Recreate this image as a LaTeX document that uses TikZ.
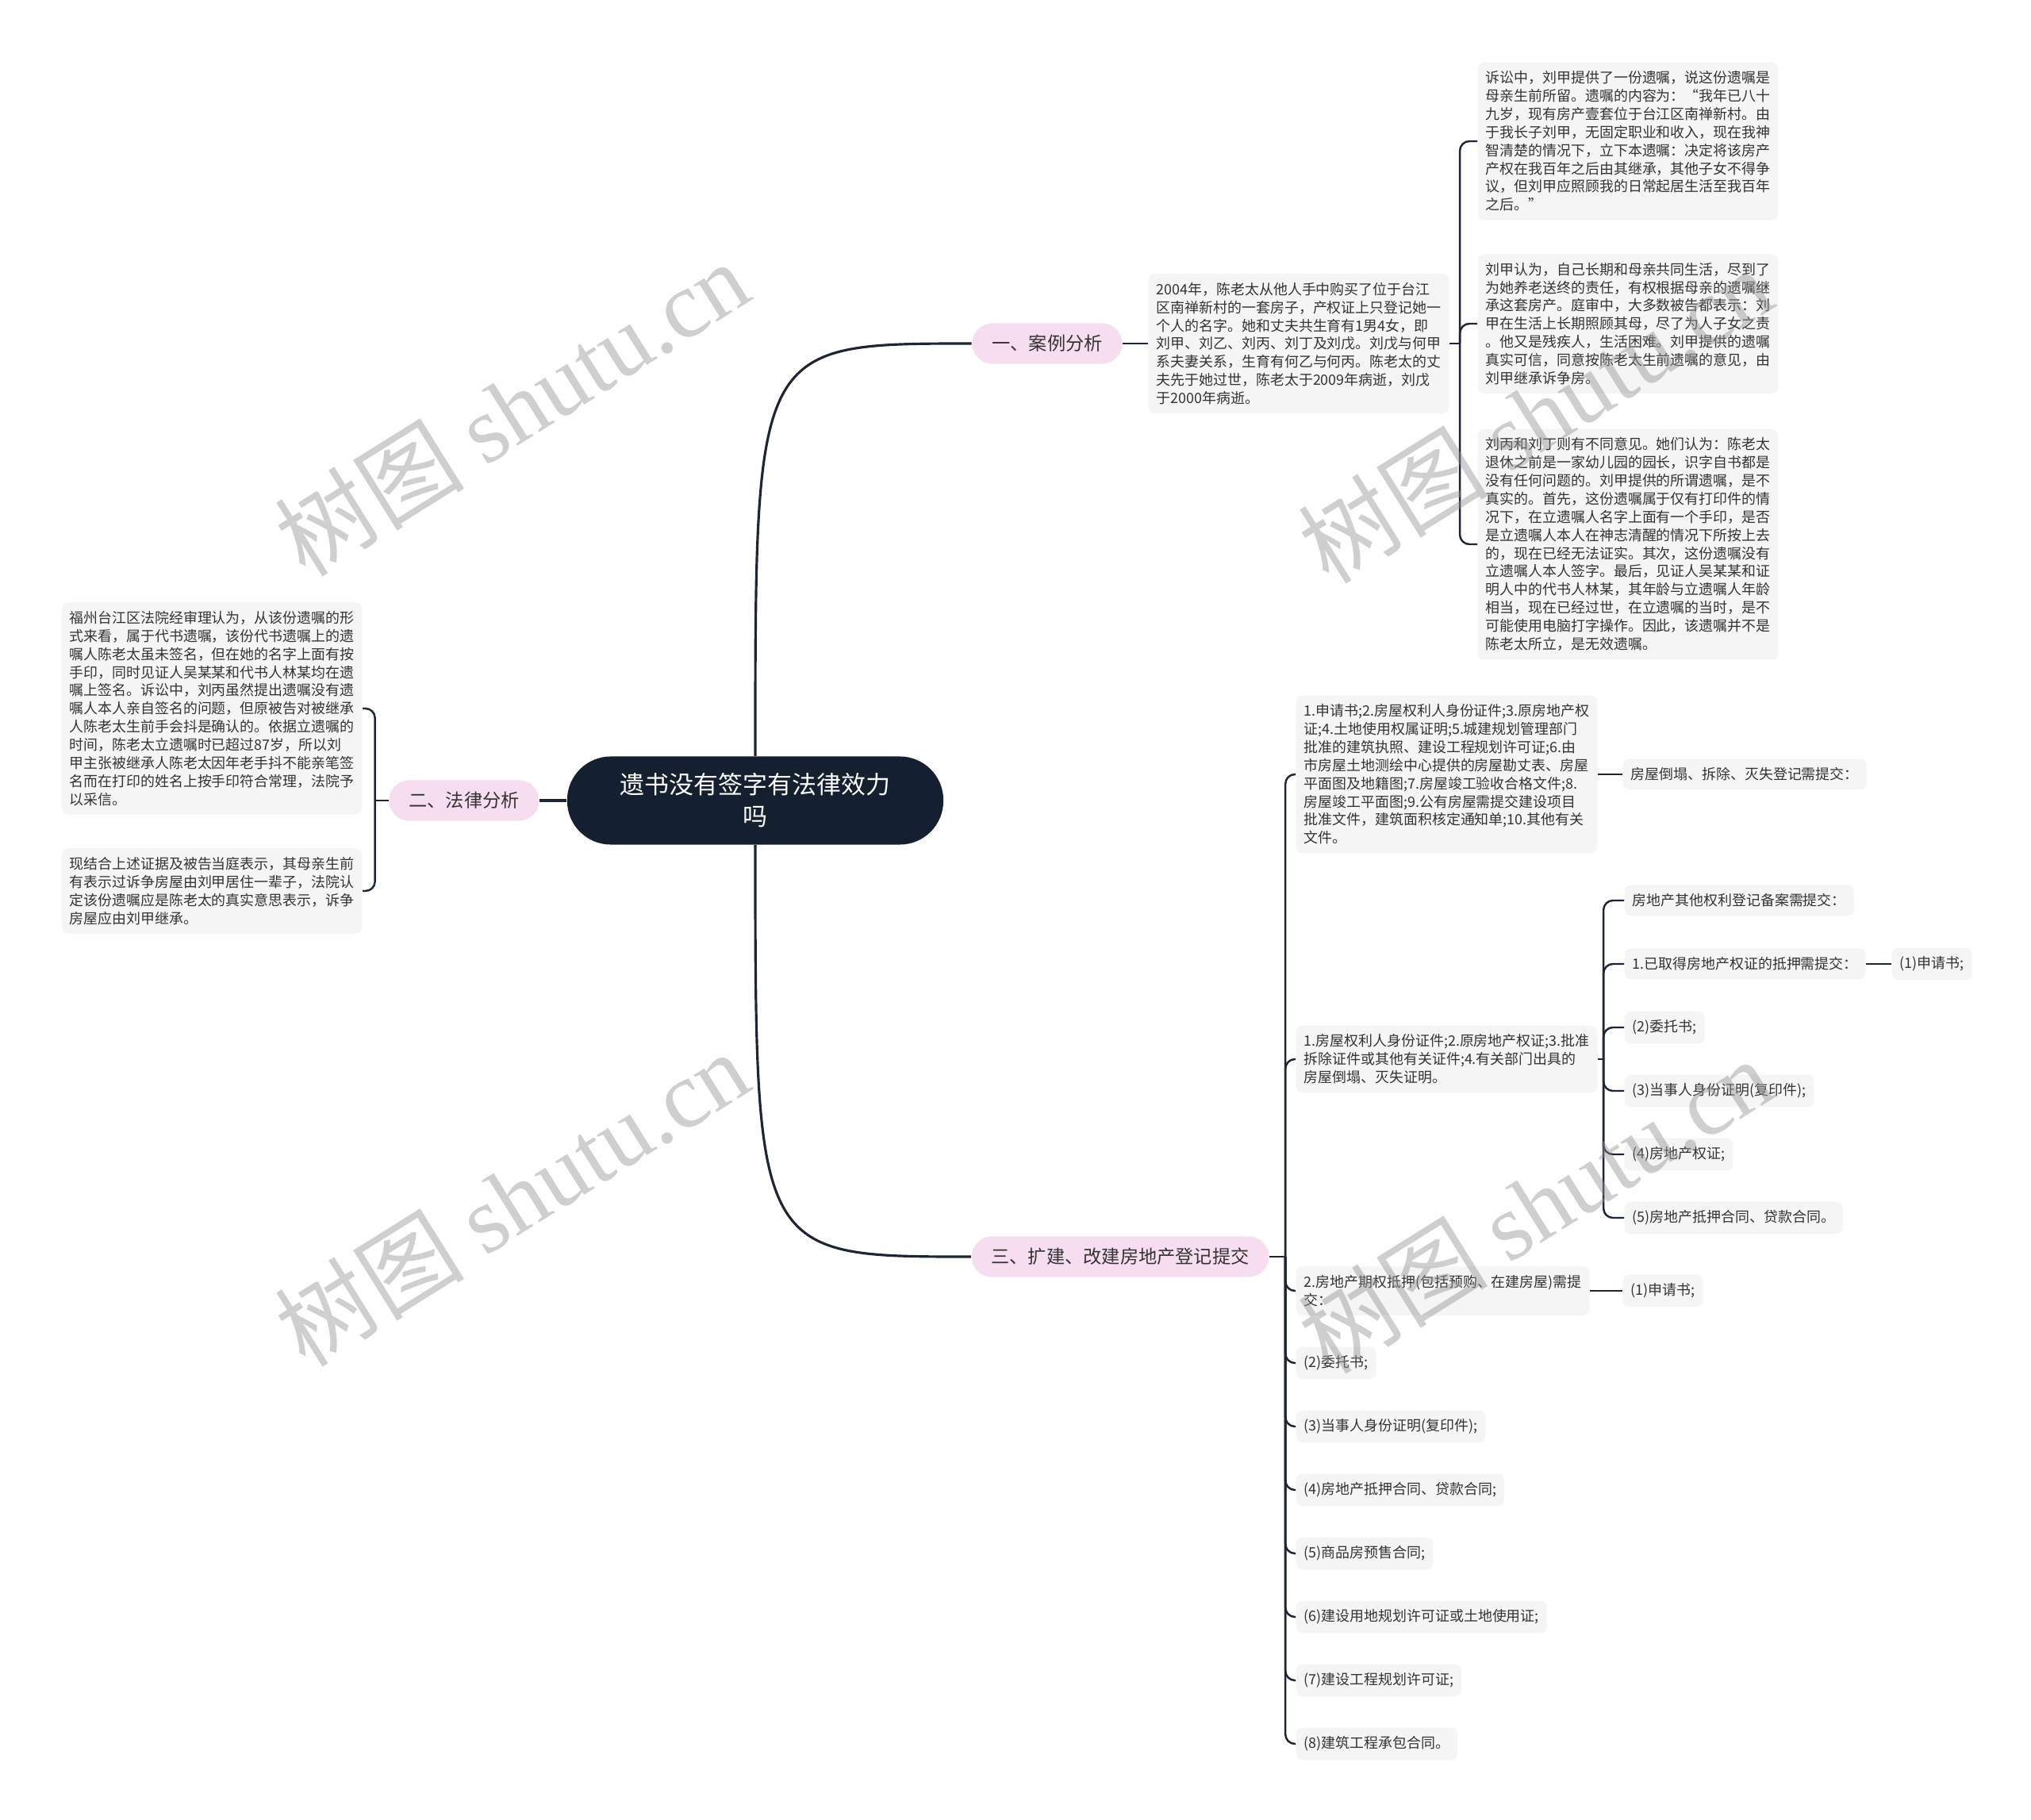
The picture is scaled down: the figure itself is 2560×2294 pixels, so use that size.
\documentclass[tikz,border=0pt]{standalone}
\usepackage{fontspec}
\setmainfont{Noto Sans CJK SC}
\newfontfamily\wmfont{Liberation Serif}
\usepackage{xcolor}
\usepackage{tikz}
\usetikzlibrary{positioning,calc}
\definecolor{RootNavy}{RGB}{20,32,48}
\definecolor{EdgeNavy}{RGB}{30,38,52}
\definecolor{TopicPink}{RGB}{246,221,240}
\definecolor{LeafGray}{RGB}{245,245,245}
\definecolor{TextGray}{RGB}{51,51,51}
\tikzset{
    leaf/.style={rectangle, rounded corners=0.08cm, fill=LeafGray, text=TextGray, align=left, inner xsep=0.1cm, inner ysep=0.11cm, font=\fontsize{5.1pt}{6.5pt}\selectfont},
    twig/.style={draw=EdgeNavy, line width=0.7pt, rounded corners=0.12cm}
}

\begin{document}
\begin{tikzpicture}[
        x=0.01cm, y=-0.01cm,
        % Nút gốc - nền xanh đậm
        root_node/.style={
            rectangle,
            rounded corners=0.55cm,
            fill=RootNavy,
            text=white,
            align=center,
            minimum width=4.74cm,
            minimum height=1.11cm,
            font=\fontsize{8.8pt}{11.4pt}\selectfont
        },
        % Nút chủ đề - nền hồng
        topic/.style={
            rectangle,
            rounded corners=0.255cm,
            fill=TopicPink,
            text=TextGray,
            inner xsep=0.25cm,
            minimum height=0.51cm,
            font=\fontsize{6.6pt}{8pt}\selectfont
        },
        % Đường nối chính
        trunk/.style={draw=EdgeNavy, line width=0.9pt},
        % Chữ chìm
        watermark/.style={rotate=32, text=black!42, text opacity=0.45, font=\fontsize{34pt}{34pt}\selectfont}
    ]
        \useasboundingbox (0,0) rectangle (2560,2294);

        % --- NÚT GỐC VÀ CHỦ ĐỀ ---
        \node[root_node] (root) at (952,1009) {遗书没有签字有法律效力\\吗};
        \node[topic] (one) at (1320,433) {一、案例分析};
        \node[topic] (two) at (585,1009) {二、法律分析};
        \node[topic] (three) at (1412,1584) {三、扩建、改建房地产登记提交};

        \draw[trunk] (root.north) .. controls (root.north |- one.west) and (root.north |- one.west) .. (one.west);
        \draw[trunk] (root.south) .. controls (root.south |- three.west) and (root.south |- three.west) .. (three.west);
        \draw[trunk] (root.west) -- (two.east);

        % --- NHÁNH 1 ---
        \node[leaf, anchor=west] (case) at (1447,433) {2004年，陈老太从他人手中购买了位于台江\\区南禅新村的一套房子，产权证上只登记她一\\个人的名字。她和丈夫共生育有1男4女，即\\刘甲、刘乙、刘丙、刘丁及刘戊。刘戊与何甲\\系夫妻关系，生育有何乙与何丙。陈老太的丈\\夫先于她过世，陈老太于2009年病逝，刘戊\\于2000年病逝。};
        \node[leaf, anchor=west] (b1) at (1862,178) {诉讼中，刘甲提供了一份遗嘱，说这份遗嘱是\\母亲生前所留。遗嘱的内容为：“我年已八十\\九岁，现有房产壹套位于台江区南禅新村。由\\于我长子刘甲，无固定职业和收入，现在我神\\智清楚的情况下，立下本遗嘱：决定将该房产\\产权在我百年之后由其继承，其他子女不得争\\议，但刘甲应照顾我的日常起居生活至我百年\\之后。”};
        \node[leaf, anchor=west] (b2) at (1862,408) {刘甲认为，自己长期和母亲共同生活，尽到了\\为她养老送终的责任，有权根据母亲的遗嘱继\\承这套房产。庭审中，大多数被告都表示：刘\\甲在生活上长期照顾其母，尽了为人子女之责\\。他又是残疾人，生活困难。刘甲提供的遗嘱\\真实可信，同意按陈老太生前遗嘱的意见，由\\刘甲继承诉争房。};
        \node[leaf, anchor=west] (b3) at (1862,686) {刘丙和刘丁则有不同意见。她们认为：陈老太\\退休之前是一家幼儿园的园长，识字自书都是\\没有任何问题的。刘甲提供的所谓遗嘱，是不\\真实的。首先，这份遗嘱属于仅有打印件的情\\况下，在立遗嘱人名字上面有一个手印，是否\\是立遗嘱人本人在神志清醒的情况下所按上去\\的，现在已经无法证实。其次，这份遗嘱没有\\立遗嘱人本人签字。最后，见证人吴某某和证\\明人中的代书人林某，其年龄与立遗嘱人年龄\\相当，现在已经过世，在立遗嘱的当时，是不\\可能使用电脑打字操作。因此，该遗嘱并不是\\陈老太所立，是无效遗嘱。};

        \coordinate (jr1) at ($(case.east)+(13,0)$);
        \draw[twig] (one.east) -- (case.west);
        \draw[twig] (case.east) -- (jr1);
        \foreach \n in {b1, b2, b3}
            \draw[twig] (jr1) |- (\n.west);

        % --- NHÁNH 2 ---
        \node[leaf, anchor=east] (L1) at (457,893) {福州台江区法院经审理认为，从该份遗嘱的形\\式来看，属于代书遗嘱，该份代书遗嘱上的遗\\嘱人陈老太虽未签名，但在她的名字上面有按\\手印，同时见证人吴某某和代书人林某均在遗\\嘱上签名。诉讼中，刘丙虽然提出遗嘱没有遗\\嘱人本人亲自签名的问题，但原被告对被继承\\人陈老太生前手会抖是确认的。依据立遗嘱的\\时间，陈老太立遗嘱时已超过87岁，所以刘\\甲主张被继承人陈老太因年老手抖不能亲笔签\\名而在打印的姓名上按手印符合常理，法院予\\以采信。};
        \node[leaf, anchor=east] (L2) at (457,1123) {现结合上述证据及被告当庭表示，其母亲生前\\有表示过诉争房屋由刘甲居住一辈子，法院认\\定该份遗嘱应是陈老太的真实意思表示，诉争\\房屋应由刘甲继承。};

        \coordinate (jl) at ($(two.west)+(-17,0)$);
        \draw[twig] (two.west) -- (jl);
        \foreach \n in {L1, L2}
            \draw[twig] (jl) |- (\n.east);

        % --- NHÁNH 3 ---
        \node[leaf, anchor=west] (c1) at (1633,976) {1.申请书;2.房屋权利人身份证件;3.原房地产权\\证;4.土地使用权属证明;5.城建规划管理部门\\批准的建筑执照、建设工程规划许可证;6.由\\市房屋土地测绘中心提供的房屋勘丈表、房屋\\平面图及地籍图;7.房屋竣工验收合格文件;8.\\房屋竣工平面图;9.公有房屋需提交建设项目\\批准文件，建筑面积核定通知单;10.其他有关\\文件。};
        \node[leaf, anchor=west] (c1a) at (2045,976) {房屋倒塌、拆除、灭失登记需提交：};
        \node[leaf, anchor=west] (c2) at (1633,1335) {1.房屋权利人身份证件;2.原房地产权证;3.批准\\拆除证件或其他有关证件;4.有关部门出具的\\房屋倒塌、灭失证明。};
        \node[leaf, anchor=west] (c3) at (1633,1627) {2.房地产期权抵押(包括预购、在建房屋)需提\\交：};
        \node[leaf, anchor=west] (c3a) at (2045,1627) {(1)申请书;};

        \foreach \txt [count=\i] in {{房地产其他权利登记备案需提交：},{1.已取得房地产权证的抵押需提交：},{(2)委托书;},{(3)当事人身份证明(复印件);},{(4)房地产权证;},{(5)房地产抵押合同、贷款合同。}}
            \node[leaf, anchor=west] (m\i) at (2047,{1055+80*\i}) {\txt};
        \node[leaf, anchor=west] (m2a) at (2384,1215) {(1)申请书;};

        \foreach \txt [count=\i] in {{(2)委托书;},{(3)当事人身份证明(复印件);},{(4)房地产抵押合同、贷款合同;},{(5)商品房预售合同;},{(6)建设用地规划许可证或土地使用证;},{(7)建设工程规划许可证;},{(8)建筑工程承包合同。}}
            \node[leaf, anchor=west] (s\i) at (1633,{1638+80*\i}) {\txt};

        \coordinate (j3) at ($(three.east)+(20,0)$);
        \coordinate (j2) at ($(c2.east)+(7,0)$);
        \draw[twig] (three.east) -- (j3);
        \foreach \n in {c1, c2, c3, s1, s2, s3, s4, s5, s6, s7}
            \draw[twig] (j3) |- (\n.west);
        \draw[twig] (c1.east) -- (c1a.west);
        \draw[twig] (c3.east) -- (c3a.west);
        \draw[twig] (c2.east) -- (j2);
        \foreach \i in {1,...,6}
            \draw[twig] (j2) |- (m\i.west);
        \draw[twig] (m2.east) -- (m2a.west);

        % --- CHỮ CHÌM ---
        \node[watermark] (wm1) at (645,514) {树图 {\wmfont shutu.cn}};
        \node[watermark] (wm2) at (1935,523) {树图 {\wmfont shutu.cn}};
        \node[watermark] (wm3) at (645,1510) {树图 {\wmfont shutu.cn}};
        \node[watermark] (wm4) at (1935,1519) {树图 {\wmfont shutu.cn}};

    \end{tikzpicture}
\end{document}
